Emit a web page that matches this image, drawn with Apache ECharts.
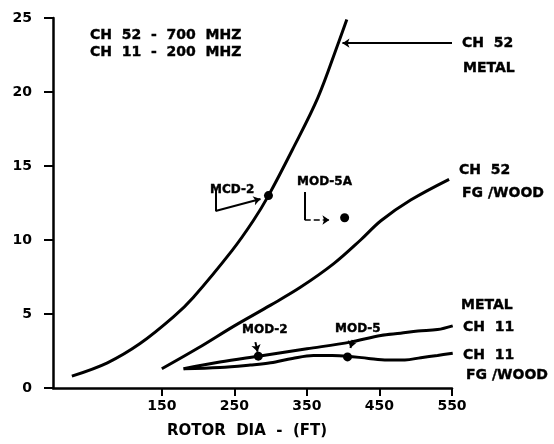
<!DOCTYPE html>
<html>
<head>
<meta charset="utf-8">
<script src="https://cdn.jsdelivr.net/npm/echarts@6/dist/echarts.min.js"></script>
<style>
  html, body { margin: 0; padding: 0; background: #fff; }
  #chart { width: 554px; height: 444px; }
</style>
</head>
<body>
<div id="chart"></div>
<script>
// values (rotor dia in ft, value on y)
const xTicks = [150, 250, 350, 450, 550];
const ch52Metal = [[26, 0.8], [75, 1.7], [120, 3.0], [166, 4.8], [193, 6.1], [247, 9.3],
  [276, 11.3], [297, 13.0], [330, 16.1], [365, 19.6], [394, 23.4], [405, 24.9]];
const ch52Wood = [[150, 1.3], [200, 2.7], [250, 4.2], [300, 5.6], [341, 6.8], [387, 8.4],
  [424, 10.0], [452, 11.3], [493, 12.7], [546, 14.1]];
const ch11Metal = [[180, 1.3], [230, 1.75], [283, 2.15], [350, 2.65], [410, 3.1], [452, 3.55],
  [479, 3.7], [503, 3.85], [530, 3.95], [551, 4.2]];
const ch11Wood = [[180, 1.3], [230, 1.38], [272, 1.55], [300, 1.7], [330, 2.0], [359, 2.2],
  [385, 2.2], [406, 2.15], [435, 2.0], [461, 1.9], [485, 1.9], [507, 2.05], [530, 2.2], [551, 2.35]];
const modPoints = [[297, 13.0], [402, 11.5], [283, 2.15], [406, 2.1]];

// annotation arrows, data coords: [from, to, arrowhead, dashed]
const arrows = [
  [[550, 23.3], [399, 23.3], true, false],
  [[224, 13.4], [224, 11.96], false, false],
  [[224, 11.96], [286, 12.77], true, false],
  [[347, 13.24], [347, 11.35], false, false],
  [[347, 11.35], [381, 11.35], true, true],
  [[279, 3.1], [282, 2.45], true, false],
  [[413, 3.24], [410, 2.7], true, false],
];

// text labels: [text, left, middle-y, size]
const notes = [
  ['CH  52  -  700  MHZ', 90, 35, 14],
  ['CH  11  -  200  MHZ', 90, 52, 14],
  ['CH  52', 462, 43, 14], ['METAL', 463, 68, 14],
  ['CH  52', 459, 170, 14], ['FG /WOOD', 462, 193, 14],
  ['METAL', 461, 305, 14], ['CH  11', 463, 327, 14],
  ['CH  11', 463, 355, 14], ['FG /WOOD', 466, 375, 14],
  ['MCD-2', 210, 190, 12], ['MOD-5A', 297, 182, 12],
  ['MOD-2', 242, 330, 12], ['MOD-5', 335, 329, 12],
];

const FONT = 'DejaVu Sans';
const chart = echarts.init(document.getElementById('chart'));

function curve(data) {
  return {
    type: 'line',
    data: data,
    smooth: 0.35,
    showSymbol: false,
    clip: false,
    silent: true,
    lineStyle: { color: '#000', width: 3 },
  };
}

chart.setOption({
  animation: false,
  backgroundColor: '#fff',
  grid: { left: 53, right: 102, top: 18, bottom: 56, outerBoundsMode: 'none' },
  xAxis: {
    type: 'value',
    min: 0,
    max: 550,
    name: 'ROTOR  DIA  -  (FT)',
    nameLocation: 'middle',
    nameGap: 36,
    nameTextStyle: { fontFamily: FONT, fontWeight: 'bold', fontSize: 15, color: '#000', padding: [0, 11, 0, 0] },
    axisLine: { show: true, lineStyle: { color: '#000', width: 2.5 } },
    axisTick: { show: true, customValues: xTicks, length: 8, lineStyle: { color: '#000', width: 2 } },
    axisLabel: { customValues: xTicks, margin: 11, fontFamily: FONT, fontWeight: 'bold', fontSize: 14, color: '#000' },
    splitLine: { show: false },
  },
  yAxis: {
    type: 'value',
    min: 0,
    max: 25,
    interval: 5,
    axisLine: { show: true, lineStyle: { color: '#000', width: 2.5 } },
    axisTick: { show: true, length: 9, lineStyle: { color: '#000', width: 2 } },
    axisLabel: { margin: 21, fontFamily: FONT, fontWeight: 'bold', fontSize: 14, color: '#000' },
    splitLine: { show: false },
  },
  series: [
    curve(ch52Metal),
    curve(ch52Wood),
    curve(ch11Metal),
    curve(ch11Wood),
    {
      type: 'scatter',
      data: modPoints,
      symbolSize: 9,
      silent: true,
      itemStyle: { color: '#000', opacity: 1 },
      markLine: {
        silent: true,
        animation: false,
        symbolSize: 7,
        label: { show: false },
        lineStyle: { color: '#000', width: 2, type: 'solid' },
        data: arrows.map(([a, b, head, dashed]) => {
          const ls = { color: '#000', width: dashed ? 1.5 : 2, type: dashed ? 'dashed' : 'solid' };
          return [
            { coord: a, symbol: 'none', lineStyle: ls },
            { coord: b, symbol: head ? 'arrow' : 'none', lineStyle: ls },
          ];
        }),
      },
    },
  ],
  graphic: notes.map(([text, x, y, size]) => ({
    type: 'text',
    x: x,
    y: y,
    silent: true,
    style: {
      text: text,
      fill: '#000',
      stroke: '#000',
      lineWidth: 0.4,
      font: 'bold ' + size + 'px "' + FONT + '"',
      verticalAlign: 'middle',
      align: 'left',
    },
  })),
});

window.addEventListener('resize', () => chart.resize());
</script>
</body>
</html>
